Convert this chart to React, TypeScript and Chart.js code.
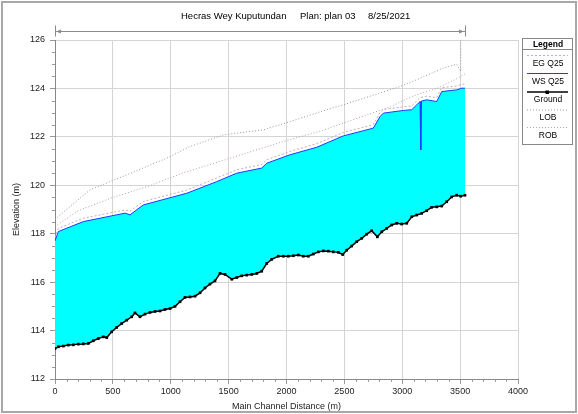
import React, { useEffect, useRef } from "react";
import { Chart, registerables } from "chart.js";
Chart.register(...registerables);

// ---- data (station in m, elevation in m) ----
const groundX = [0, 29, 72, 115, 158, 201, 245, 288, 331, 374, 417, 447, 490, 533, 576, 620, 663, 691, 734, 778, 821, 864, 907, 950, 994, 1037, 1080, 1123, 1166, 1210, 1253, 1296, 1339, 1382, 1426, 1469, 1527, 1570, 1613, 1656, 1700, 1743, 1786, 1829, 1872, 1929, 1973, 2016, 2059, 2102, 2145, 2188, 2232, 2275, 2318, 2361, 2404, 2448, 2486, 2520, 2563, 2607, 2650, 2693, 2736, 2785, 2823, 2866, 2909, 2952, 2995, 3039, 3082, 3125, 3168, 3211, 3254, 3298, 3341, 3384, 3427, 3470, 3505, 3542];
const groundY = [113.26, 113.33, 113.36, 113.40, 113.41, 113.44, 113.45, 113.47, 113.58, 113.67, 113.74, 113.71, 113.95, 114.13, 114.29, 114.43, 114.57, 114.73, 114.57, 114.68, 114.75, 114.79, 114.81, 114.87, 114.91, 115.00, 115.19, 115.37, 115.39, 115.42, 115.56, 115.76, 115.92, 116.05, 116.36, 116.32, 116.12, 116.19, 116.26, 116.29, 116.32, 116.36, 116.45, 116.77, 116.94, 117.07, 117.07, 117.07, 117.09, 117.12, 117.07, 117.07, 117.16, 117.25, 117.29, 117.28, 117.25, 117.23, 117.14, 117.32, 117.49, 117.67, 117.81, 117.98, 118.12, 117.87, 118.08, 118.22, 118.36, 118.43, 118.40, 118.43, 118.70, 118.77, 118.84, 118.95, 119.09, 119.11, 119.14, 119.32, 119.52, 119.59, 119.55, 119.59];

const wsX = [0, 29, 245, 605, 648, 763, 1138, 1397, 1570, 1786, 1829, 2030, 2261, 2491, 2750, 2808, 2837, 3009, 3082, 3154, 3160, 3166, 3211, 3298, 3341, 3413, 3471, 3514, 3542];
const wsY = [117.70, 118.09, 118.50, 118.85, 118.78, 119.19, 119.67, 120.15, 120.50, 120.71, 120.91, 121.26, 121.57, 122.04, 122.36, 122.84, 122.98, 123.09, 123.12, 123.46, 121.46, 123.48, 123.53, 123.46, 123.87, 123.91, 123.94, 124.01, 124.01];

const egX = [0, 29, 245, 605, 648, 763, 1138, 1397, 1570, 1786, 1829, 2030, 2261, 2491, 2750, 2808, 2837, 3009, 3082, 3154, 3211, 3298, 3341, 3413, 3471, 3514, 3542];
const egY = [117.85, 118.22, 118.64, 118.98, 118.93, 119.33, 119.80, 120.30, 120.64, 120.86, 121.05, 121.40, 121.72, 122.18, 122.50, 123.00, 123.13, 123.24, 123.28, 123.62, 123.68, 123.62, 124.03, 124.07, 124.10, 124.17, 124.18];

const lobX = [0, 302, 619, 965, 1166, 1454, 1800, 2030, 2347, 2491, 2981, 3125, 3355, 3470, 3505, 3505];
const lobY = [118.60, 119.81, 120.43, 121.12, 121.60, 122.08, 122.29, 122.63, 123.12, 123.32, 124.08, 124.36, 124.84, 125.00, 124.70, 127.00];

const robX = [0, 200, 500, 800, 1100, 1400, 1700, 2000, 2300, 2600, 2900, 3100, 3300, 3450, 3542];
const robY = [118.30, 118.95, 119.50, 119.95, 120.50, 120.95, 121.40, 121.85, 122.25, 122.75, 123.25, 123.70, 124.00, 124.35, 124.60];

const xMin = 0, xMax = 4000, xStep = 500;
const yMin = 112, yMax = 126, yStep = 2;

const titleParts = ["Hecras Wey Kuputundan", "Plan: plan 03", "8/25/2021"];
const legendTitle = "Legend";
const legendLabels = ["EG Q25", "WS Q25", "Ground", "LOB", "ROB"];
const xTitle = "Main Channel Distance (m)";
const yTitle = "Elevation (m)";

const FONT = "'Liberation Sans', Arial, sans-serif";

const EG_COLOR = "#c9a9bd";
const WS_COLOR = "#1a3cff";
const LOB_COLOR = "#9a9a9a";
const ROB_COLOR = "#b9a0b0";

function pts(xs: number[], ys: number[]) {
  return xs.map((x, i) => ({ x, y: ys[i] }));
}

export default function App() {
  const ref = useRef<HTMLCanvasElement>(null);

  useEffect(() => {
    const canvas = ref.current!;
    const decor = {
      id: "decor",
      beforeDraw(chart: any) {
        const ctx = chart.ctx;
        ctx.save();
        ctx.fillStyle = "#ffffff";
        ctx.fillRect(0, 0, chart.width, chart.height);
        ctx.restore();
      },
      afterDraw(chart: any) {
        const ctx = chart.ctx as CanvasRenderingContext2D;
        const xs = chart.scales.x;
        const ys = chart.scales.y;
        const ca = chart.chartArea;
        ctx.save();
        // outer frame
        ctx.strokeStyle = "#a8a8a8";
        ctx.lineWidth = 2;
        ctx.strokeRect(2, 2, chart.width - 4, chart.height - 4);

        // minor ticks
        ctx.strokeStyle = "#999";
        ctx.lineWidth = 1;
        for (let v = yMin; v <= yMax + 1e-6; v += 0.5) {
          if (Math.abs(v / yStep - Math.round(v / yStep)) < 1e-6) continue;
          const py = Math.round(ys.getPixelForValue(v)) + 0.5;
          ctx.beginPath();
          ctx.moveTo(ca.left - 3, py);
          ctx.lineTo(ca.left, py);
          ctx.stroke();
        }
        for (let v = xMin; v <= xMax + 1e-6; v += 100) {
          if (v % xStep === 0) continue;
          const px = Math.round(xs.getPixelForValue(v)) + 0.5;
          ctx.beginPath();
          ctx.moveTo(px, ca.bottom);
          ctx.lineTo(px, ca.bottom + 3);
          ctx.stroke();
        }

        // title
        ctx.fillStyle = "#000";
        ctx.font = `9.5px ${FONT}`;
        ctx.textBaseline = "middle";
        ctx.textAlign = "left";
        const tx = [181, 300, 368];
        titleParts.forEach((t, i) => ctx.fillText(t, tx[i], 16));

        // reach length dimension line
        const x0 = xs.getPixelForValue(groundX[0]);
        const x1 = xs.getPixelForValue(groundX[groundX.length - 1]);
        const dy = 31.5;
        ctx.strokeStyle = "#8a8a8a";
        ctx.fillStyle = "#8a8a8a";
        ctx.lineWidth = 1;
        ctx.beginPath();
        ctx.moveTo(x0, dy);
        ctx.lineTo(x1, dy);
        ctx.moveTo(Math.round(x0) + 0.5, dy - 6);
        ctx.lineTo(Math.round(x0) + 0.5, dy + 5);
        ctx.moveTo(Math.round(x1) + 0.5, dy - 6);
        ctx.lineTo(Math.round(x1) + 0.5, dy + 5);
        ctx.stroke();
        ctx.beginPath();
        ctx.moveTo(x0 + 1, dy);
        ctx.lineTo(x0 + 6, dy - 2);
        ctx.lineTo(x0 + 6, dy + 2);
        ctx.closePath();
        ctx.moveTo(x1 - 1, dy);
        ctx.lineTo(x1 - 6, dy - 2);
        ctx.lineTo(x1 - 6, dy + 2);
        ctx.closePath();
        ctx.fill();

        // legend
        const lx = 522, lw = 50, ly = 38;
        const lh = 106;
        ctx.strokeStyle = "#888";
        ctx.lineWidth = 1;
        ctx.strokeRect(lx + 0.5, ly + 0.5, lw, lh);
        ctx.beginPath();
        ctx.moveTo(lx, ly + 11.5);
        ctx.lineTo(lx + lw, ly + 11.5);
        ctx.stroke();
        ctx.fillStyle = "#000";
        ctx.textAlign = "center";
        ctx.font = `bold 8.5px ${FONT}`;
        ctx.fillText(legendTitle, lx + lw / 2 + 1, ly + 6.5);
        ctx.font = `8.5px ${FONT}`;
        const lineYs = [55, 73, 91.5, 109.5, 127];
        const styles = [
          { c: EG_COLOR, d: [2, 2], w: 1 },
          { c: WS_COLOR, d: [], w: 1 },
          { c: "#000", d: [], w: 1.5 },
          { c: LOB_COLOR, d: [1, 2], w: 1 },
          { c: ROB_COLOR, d: [1, 2], w: 1 },
        ];
        legendLabels.forEach((lab, i) => {
          const s = styles[i];
          ctx.strokeStyle = s.c;
          ctx.lineWidth = s.w;
          ctx.setLineDash(s.d);
          ctx.beginPath();
          ctx.moveTo(lx + 5, lineYs[i] + 0.5);
          ctx.lineTo(lx + lw - 4, lineYs[i] + 0.5);
          ctx.stroke();
          ctx.setLineDash([]);
          if (i === 2) {
            ctx.fillStyle = "#000";
            ctx.fillRect(lx + lw / 2 - 1.5, lineYs[i] - 1, 3.5, 3.5);
          }
          ctx.fillStyle = "#000";
          ctx.fillText(lab, lx + lw / 2 + 1, lineYs[i] + 8.5);
        });
        ctx.restore();
      },
    };

    const chart = new Chart(canvas, {
      type: "line",
      data: {
        datasets: [
          {
            label: "Ground",
            data: pts(groundX, groundY),
            borderColor: "#000",
            borderWidth: 1.5,
            pointStyle: "rect",
            pointRadius: 1.9,
            pointBackgroundColor: "#000",
            pointBorderColor: "#000",
            pointBorderWidth: 0,
            fill: false,
            order: 0,
          },
          {
            label: "WS Q25",
            data: pts(wsX, wsY),
            borderColor: WS_COLOR,
            borderWidth: 1,
            pointRadius: 0,
            backgroundColor: "#00ffff",
            fill: 0,
            order: 3,
          },
          {
            label: "EG Q25",
            data: pts(egX, egY),
            borderColor: EG_COLOR,
            borderWidth: 1,
            borderDash: [2, 2],
            pointRadius: 0,
            fill: false,
            order: 2,
          },
          {
            label: "LOB",
            data: pts(lobX, lobY),
            borderColor: LOB_COLOR,
            borderWidth: 1,
            borderDash: [1, 2],
            pointRadius: 0,
            fill: false,
            order: 1,
          },
          {
            label: "ROB",
            data: pts(robX, robY),
            borderColor: ROB_COLOR,
            borderWidth: 1,
            borderDash: [1, 2],
            pointRadius: 0,
            fill: false,
            order: 1,
          },
        ],
      },
      options: {
        animation: false,
        responsive: false,
        devicePixelRatio: 1,
        parsing: false as any,
        layout: { padding: { left: 8, right: 60, top: 40, bottom: 0 } },
        plugins: {
          legend: { display: false },
          tooltip: { enabled: false },
          title: { display: false },
        },
        elements: { line: { tension: 0 } },
        scales: {
          x: {
            type: "linear",
            min: xMin,
            max: xMax,
            afterFit: (s: any) => {
              s.height = 35;
            },
            ticks: {
              stepSize: xStep,
              autoSkip: false,
              maxRotation: 0,
              padding: 2,
              color: "#222",
              font: { family: FONT, size: 9 },
              callback: (v: any) => String(v),
            },
            grid: { color: "#d4d4d4", tickLength: 5, tickColor: "#999" },
            border: { color: "#888" },
            title: {
              display: true,
              text: xTitle,
              color: "#222",
              font: { family: FONT, size: 9 },
              padding: { top: 0, bottom: 2 },
            },
          },
          y: {
            type: "linear",
            min: yMin,
            max: yMax,
            afterFit: (s: any) => {
              s.width = 47;
            },
            ticks: {
              stepSize: yStep,
              padding: 5,
              color: "#222",
              font: { family: FONT, size: 9 },
              callback: (v: any) => String(v),
            },
            grid: { color: "#d4d4d4", tickLength: 5, tickColor: "#999" },
            border: { color: "#888" },
            title: {
              display: true,
              text: yTitle,
              color: "#222",
              font: { family: FONT, size: 9 },
              padding: { top: 3, bottom: 0 },
            },
          },
        },
      },
      plugins: [decor],
    } as any);
    return () => chart.destroy();
  }, []);

  return (
    <div style={{ position: "absolute", left: 0, top: 0, width: 578, height: 414 }}>
      <canvas ref={ref} width={578} height={414} style={{ display: "block", width: 578, height: 414 }} />
    </div>
  );
}
